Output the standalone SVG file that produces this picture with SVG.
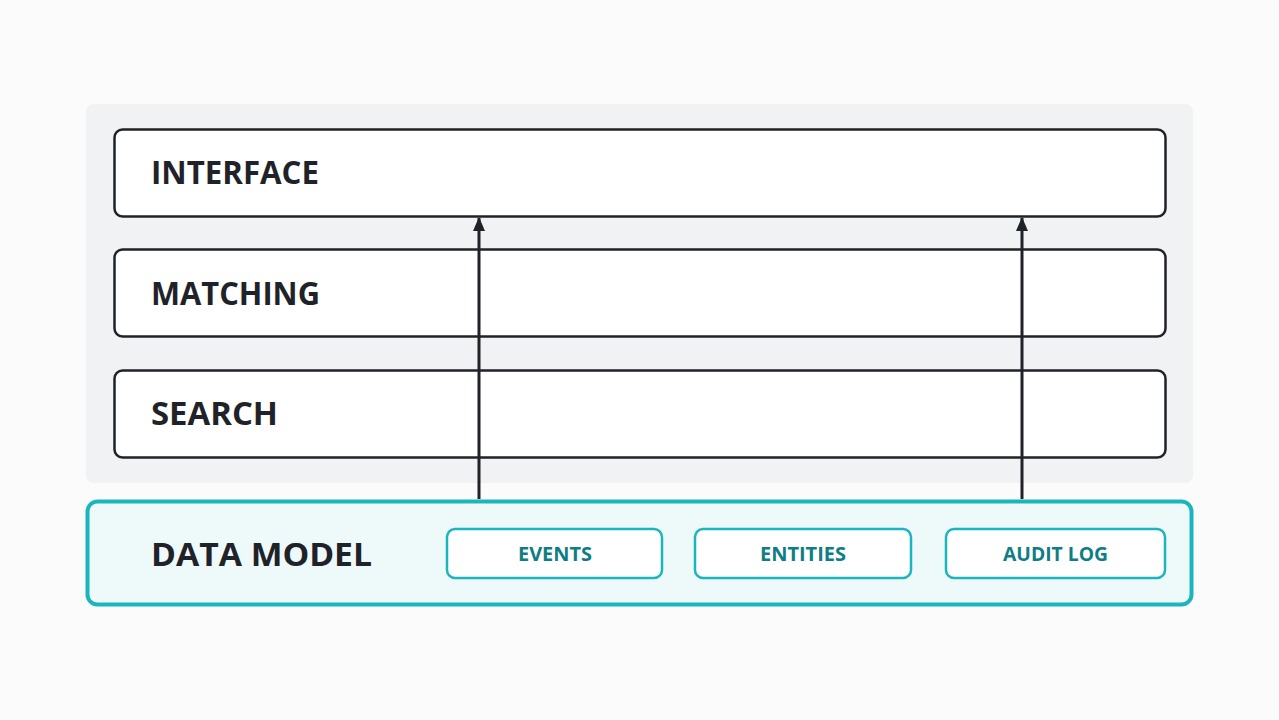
<svg xmlns="http://www.w3.org/2000/svg" width="1279" height="720" viewBox="0 0 1279 720">
<defs>
<style>
.layer{fill:#ffffff;stroke:#1f2329;stroke-width:2.5}
.lt{font-family:"Open Sans","Liberation Sans",sans-serif;font-weight:700;font-size:32px;fill:#1f2329}
.sub{fill:#ffffff;stroke:#1bb5bd;stroke-width:2.5}
.st{font-family:"Open Sans","Liberation Sans",sans-serif;font-weight:700;font-size:19.5px;fill:#0e7d86;text-anchor:middle}
.conn{stroke:#1f2329;stroke-width:3;fill:none}
</style>
<marker id="ah" viewBox="0 0 14 12" refX="13" refY="6" markerWidth="14" markerHeight="12" orient="auto" markerUnits="userSpaceOnUse">
<path d="M0,0 L14,6 L0,12 z" fill="#1f2329"/>
</marker>
</defs>
<rect width="1279" height="720" fill="#fbfbfc"/>
<rect id="panel" x="86" y="104" width="1107" height="379" rx="8" fill="#f1f2f3"/>
<g id="interface">
<rect class="layer" x="114.5" y="129.5" width="1051" height="87" rx="8"/>
<text class="lt" x="151" y="184" textLength="168" lengthAdjust="spacingAndGlyphs">INTERFACE</text>
</g>
<g id="matching">
<rect class="layer" x="114.5" y="249.5" width="1051" height="87" rx="8"/>
<text class="lt" x="151" y="305" textLength="169" lengthAdjust="spacingAndGlyphs">MATCHING</text>
</g>
<g id="search">
<rect class="layer" x="114.5" y="370.5" width="1051" height="87" rx="8"/>
<text class="lt" x="151" y="425" textLength="127" lengthAdjust="spacingAndGlyphs">SEARCH</text>
</g>
<g id="datamodel">
<rect x="87.5" y="501.5" width="1104" height="103" rx="10" fill="#eef9fa" stroke="#1bb5bd" stroke-width="4"/>
<text class="lt" x="151" y="566" textLength="221" lengthAdjust="spacingAndGlyphs">DATA MODEL</text>
</g>
<g id="events">
<rect class="sub" x="447" y="529" width="215" height="49" rx="8"/>
<text class="st" x="555" y="561" textLength="74" lengthAdjust="spacingAndGlyphs">EVENTS</text>
</g>
<g id="entities">
<rect class="sub" x="695" y="529" width="216" height="49" rx="8"/>
<text class="st" x="803" y="561" textLength="86" lengthAdjust="spacingAndGlyphs">ENTITIES</text>
</g>
<g id="auditlog">
<rect class="sub" x="946" y="529" width="219" height="49" rx="8"/>
<text class="st" x="1055.5" y="561" textLength="105" lengthAdjust="spacingAndGlyphs">AUDIT LOG</text>
</g>
<g id="connectors">
<line class="conn" x1="479" y1="499" x2="479" y2="218" marker-end="url(#ah)"/>
<line class="conn" x1="1022" y1="499" x2="1022" y2="218" marker-end="url(#ah)"/>
</g>
</svg>
